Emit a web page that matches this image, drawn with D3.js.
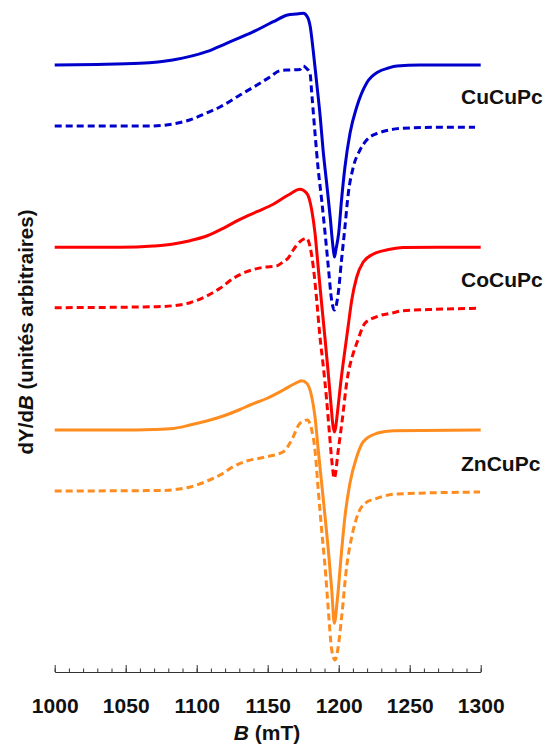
<!DOCTYPE html>
<html>
<head>
<meta charset="utf-8">
<script src="https://cdn.jsdelivr.net/npm/d3@7"></script>
<style>
html,body{margin:0;padding:0;background:#fff;}
svg{display:block;}
text{font-family:"Liberation Sans",Arial,sans-serif;font-weight:bold;fill:#111;}
</style>
</head>
<body>
<svg id="chart" width="545" height="749"></svg>
<script>
// Field values (mT) and dY/dB (arbitrary units, relative to each trace's baseline)
const cuSolidB = [1000,1030,1060,1083,1107,1121,1140,1154,1164,1170,1175,1178,1180,1182,1184.5,1187,1189,1191.5,1194,1196,1197,1198,1200,1202,1204.4,1208,1212.7,1219.7,1227.7,1235,1241,1257,1300];
const cuSolidV = [0,0.5,1.7,5,13.3,21.7,33.3,43.3,50,51,51.7,48,38,15,-18,-52,-85,-118,-152,-182,-192,-185,-168,-135,-102,-68,-42,-18,-7,-3,-1,0,0];

const cuDashB = [1000,1067,1083,1095,1107,1116.4,1130.5,1142.5,1151.6,1158.7,1164.3,1172.7,1175,1177.7,1179.8,1181,1183.3,1185.4,1188,1190.4,1192.7,1195,1197,1199.7,1202,1204.4,1206.8,1210.3,1215,1219.7,1227.9,1245.3,1269,1296];
const cuDashV = [0,0,2,6,13,19,31,41,49,55.3,56,56.5,60,57,53,33,-7,-41,-74,-107,-141,-174,-184,-167,-134,-101,-67,-41,-24,-14,-7,-2.3,-1.3,-1.3];

const coSolidB = [1000,1046,1069.4,1083.5,1095.3,1107,1118.7,1130.5,1142.3,1153.9,1164.5,1172.7,1177.5,1181,1183.3,1185.6,1188,1190.4,1192.5,1194.6,1195.9,1196.9,1197.8,1199,1201.4,1204.4,1206.5,1209.2,1212.7,1217.3,1224.4,1236.1,1245.3,1300];
const coSolidV = [0,0,1.3,3.3,6.6,11.3,19,28,35.6,43,52.3,58,54,37.3,14.3,-20.7,-56.7,-91.7,-123.7,-157.7,-177.7,-184.7,-180.7,-166.7,-135.7,-102.7,-80.7,-52.7,-29.7,-14.7,-6.7,-2,-0.2,0];

const coDashB = [1000,1071.8,1083.5,1095.3,1107,1116.4,1125.8,1135.2,1146.9,1156.3,1161,1164.5,1168,1172.7,1177.5,1179.8,1182.1,1184.5,1186.8,1188.9,1191.5,1193.5,1195.1,1196.9,1199.7,1202.7,1205.6,1210.3,1212.7,1218.5,1226.8,1238.5,1245.3,1269,1299.5];
const coDashV = [0,1,2,5,11.7,19.4,29.4,36,40.4,41.7,46,49.7,57.7,66,69.4,61,41,7.7,-29.3,-55.3,-92.3,-126,-152.3,-170.6,-142.3,-110,-75.3,-45.3,-35.6,-15.6,-9,-5,-3,-1.6,-0.6];

const znSolidB = [1000,1046,1069.4,1083.5,1095.3,1107,1118.7,1130.5,1137.5,1149.3,1161,1169.2,1173.9,1177.5,1181,1183.3,1185.6,1188,1190.4,1192.7,1195.1,1196.9,1199,1202.1,1204.4,1207.9,1212.7,1217.3,1226.8,1238.5,1300];
const znSolidV = [0,0,0.5,1.5,5,9,14,20.5,25,31.5,40,46.5,49.3,46.7,33.3,13.3,-20,-53.3,-86.7,-120,-160,-193.3,-170,-120,-86.7,-53.3,-26.7,-11.7,-3.3,-0.7,0];

const znDashB = [1000,1074.2,1095.3,1107,1116.4,1125.8,1135.2,1146.9,1161,1166.9,1172.7,1177.9,1181,1183.3,1185.6,1188,1190.4,1192.7,1195.1,1197.4,1199.3,1202.1,1205.6,1209.2,1213.8,1218.5,1226.8,1240.8,1299.5];
const znDashV = [0,0.5,4,9.7,16,24.4,30,33.5,39.3,51,67.7,71,61,41,1,-39,-75.7,-119,-159,-169,-159,-125.7,-75.7,-45.7,-22.3,-12.3,-7.3,-3,-1];

// vertical offsets of each trace (arbitrary units)
const offsets = [607, 546, 424.7, 364.3, 242, 181];
const colors = ["#0000cc", "#0000cc", "#ff0000", "#ff0000", "#ff8c1e", "#ff8c1e"];
const dashed = [false, true, false, true, false, true];
const samples = ["CuCuPc", "CoCuPc", "ZnCuPc"];
const labelShift = [-39, -40, -41];

const majorTicks = [1000, 1050, 1100, 1150, 1200, 1250, 1300];
const minorTicks = d3.range(1000, 1301, 10);

const seriesB = [cuSolidB, cuDashB, coSolidB, coDashB, znSolidB, znDashB];
const seriesV = [cuSolidV, cuDashV, coSolidV, coDashV, znSolidV, znDashV];

const svg = d3.select("#chart");
const x = d3.scaleLinear().domain([1000, 1300]).range([54.7, 480.7]);
const y = d3.scaleLinear().domain([0, 672]).range([672, 0]);

const line = d3.line()
  .x(d => x(d[0]))
  .y(d => y(d[1]))
  .curve(d3.curveMonotoneX);

seriesB.forEach((bs, i) => {
  const pts = bs.map((b, j) => [b, seriesV[i][j] + offsets[i]]);
  svg.append("path")
    .attr("d", line(pts))
    .attr("fill", "none")
    .attr("stroke", colors[i])
    .attr("stroke-width", 3)
    .attr("stroke-linejoin", "round")
    .attr("stroke-dasharray", dashed[i] ? "7,4" : null);
});

// sample labels
samples.forEach((s, k) => {
  svg.append("text")
    .attr("x", 461)
    .attr("y", y(offsets[2 * k] + labelShift[k]))
    .attr("font-size", 21)
    .text(s);
});

// x axis
const gx = svg.append("g").attr("transform", "translate(0,672)");
gx.call(d3.axisBottom(x).tickValues(majorTicks).tickSizeInner(-7).tickSizeOuter(0).tickPadding(26).tickFormat(d3.format("d")));
gx.selectAll("text").attr("font-size", 21).attr("fill", "#111").style("font-family", '"Liberation Sans",Arial,sans-serif').style("font-weight", "bold");
gx.selectAll("line,path").attr("stroke", "#333");

const gm = svg.append("g").attr("transform", "translate(0,672)");
gm.call(d3.axisBottom(x).tickValues(minorTicks).tickSize(-3.5).tickFormat(""));
gm.select(".domain").remove();
gm.selectAll("line").attr("stroke", "#333");

// axis titles
const xt = svg.append("text").attr("x", 267).attr("y", 740).attr("text-anchor", "middle").attr("font-size", 21);
xt.append("tspan").attr("font-style", "italic").text("B");
xt.append("tspan").text(" (mT)");

const yt = svg.append("text").attr("transform", "translate(33,332) rotate(-90)").attr("text-anchor", "middle").attr("font-size", 20.5);
yt.append("tspan").text("dY/d");
yt.append("tspan").attr("font-style", "italic").text("B");
yt.append("tspan").text(" (unités arbitraires)");
</script>
</body>
</html>
